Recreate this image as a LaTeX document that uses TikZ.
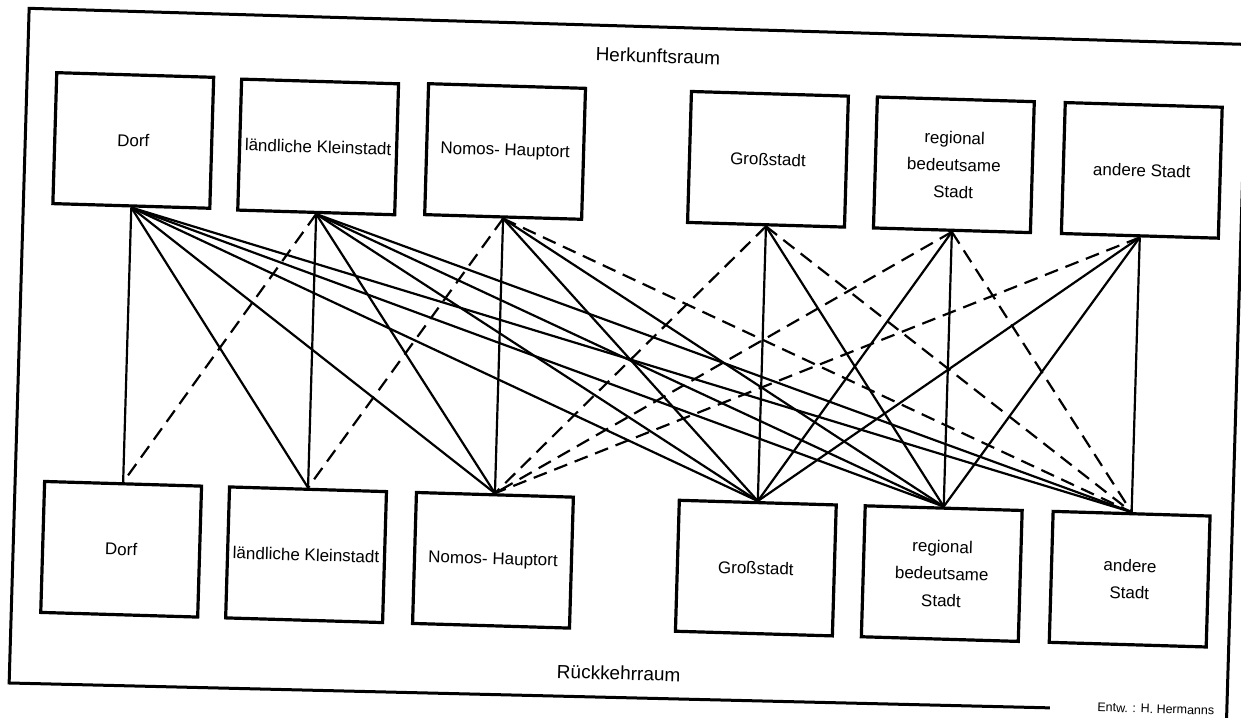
\documentclass[tikz,border=0pt]{standalone}
\usepackage{fontspec}
\setmainfont{Liberation Sans}

\begin{document}
\begin{tikzpicture}[x=1pt,y=1pt,
  ort/.style={draw,line width=3.2pt,minimum width=157,minimum height=131,
              inner sep=0pt,align=center,font=\fontsize{17}{27}\selectfont},
  raum/.style={font=\fontsize{19}{23}\selectfont},
  link/.style={line width=2.2pt},
  weaklink/.style={line width=2.2pt,dash pattern=on 14pt off 8pt}]

\useasboundingbox [fill=white] (0,0) rectangle (1241,717);

\begin{scope}[rotate around={-1.7:(620.5,358.5)},transform shape]

% frame
\draw [line width=3pt] (1060,22) -- (19,16) -- (19,691) -- (1237,691) -- (1237,-10);

\node [raum] (herkunft) at (649,662) {Herkunftsraum};
\node [raum] (rueckkehr) at (628,44) {Rückkehrraum};
\node [font=\fontsize{12.5}{14}\selectfont] (entw) at (1166,24) {Entw. : H. Hermanns};

% Herkunftsraum
\node [ort] (t1) at (127,562)  {Dorf};
\node [ort] (t2) at (312,561)  {ländliche Kleinstadt};
\node [ort] (t3) at (499,562)  {Nomos- Hauptort};
\node [ort] (t4) at (762,562)  {Großstadt};
\node [ort] (t5) at (948,562)  {regional\\bedeutsame\\Stadt};
\node [ort] (t6) at (1136,562) {andere Stadt};

% Rueckkehrraum
\node [ort] (b1) at (127,153)  {Dorf};
\node [ort] (b2) at (312,153)  {ländliche Kleinstadt};
\node [ort] (b3) at (499,153)  {Nomos- Hauptort};
\node [ort] (b4) at (762,153)  {Großstadt};
\node [ort] (b5) at (948,153)  {regional\\bedeutsame\\Stadt};
\node [ort] (b6) at (1136,153) {andere\\Stadt};

% von Dorf
\draw [link] (t1.south) -- (b1.north);
\draw [link] (t1.south) -- (b2.north);
\draw [link] (t1.south) -- (b3.north);
\draw [link] (t1.south) -- (b4.north);
\draw [link] (t1.south) -- (b5.north);
\draw [link] (t1.south) -- (b6.north);

% von Kleinstadt
\draw [weaklink] (t2.south) -- (b1.north);
\draw [link] (t2.south) -- (b2.north);
\draw [link] (t2.south) -- (b3.north);
\draw [link] (t2.south) -- (b4.north);
\draw [link] (t2.south) -- (b5.north);
\draw [link] (t2.south) -- (b6.north);

% von Hauptort
\draw [weaklink] (t3.south) -- (b2.north);
\draw [link] (t3.south) -- (b3.north);
\draw [link] (t3.south) -- (b4.north);
\draw [link] (t3.south) -- (b5.north);
\draw [weaklink] (t3.south) -- (b6.north);

% von Grossstadt
\draw [weaklink] (t4.south) -- (b3.north);
\draw [link] (t4.south) -- (b4.north);
\draw [link] (t4.south) -- (b5.north);
\draw [weaklink] (t4.south) -- (b6.north);

% von regional bedeutsamer Stadt
\draw [weaklink] (t5.south) -- (b3.north);
\draw [link] (t5.south) -- (b4.north);
\draw [link] (t5.south) -- (b5.north);
\draw [weaklink] (t5.south) -- (b6.north);

% von anderer Stadt
\draw [weaklink] (t6.south) -- (b3.north);
\draw [link] (t6.south) -- (b4.north);
\draw [link] (t6.south) -- (b5.north);
\draw [link] (t6.south) -- (b6.north);

\end{scope}

\end{tikzpicture}
\end{document}
